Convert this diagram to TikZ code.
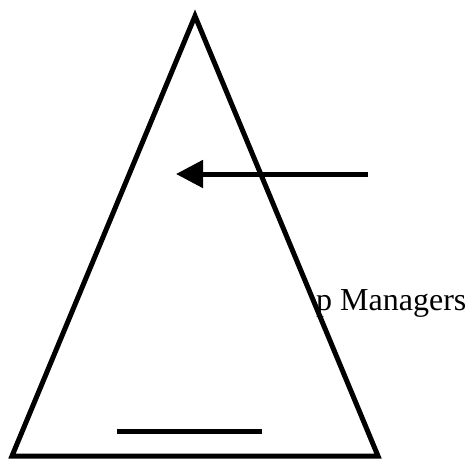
\documentclass[tikz,border=0pt]{standalone}
\usepackage{fontspec}
\setmainfont{Liberation Serif}
\usetikzlibrary{positioning,arrows.meta}
\tikzset{
  edgeline/.style={draw=black, line width=5pt, line join=miter},
  bigarrow/.style={-{Triangle[length=27pt,width=27pt]}, line width=5pt, draw=black},
  levellabel/.style={inner sep=0pt, anchor=base west, font=\fontsize{32}{36}\selectfont}
}
\begin{document}
\begin{tikzpicture}[x=1pt, y=-1pt]
  \useasboundingbox (0,0) rectangle (467,461);

  % label (partly hidden)
  \node[levellabel] (mgr) at (316,310) {p Managers};

  % pyramid
  \coordinate (apex) at (195,16);
  \coordinate (bl) at (12,456);
  \coordinate (br) at (378,456);
  \draw[edgeline] (apex) -- (br) -- (bl) -- cycle;

  % arrow
  \coordinate (arrstart) at (368,174);
  \coordinate (arrend) at (176,174);
  \draw[bigarrow] (arrstart) -- (arrend);

  % bottom bar
  \coordinate (barl) at (117,431);
  \coordinate (barr) at (262,431);
  \draw[edgeline] (barl) -- (barr);
\end{tikzpicture}
\end{document}
